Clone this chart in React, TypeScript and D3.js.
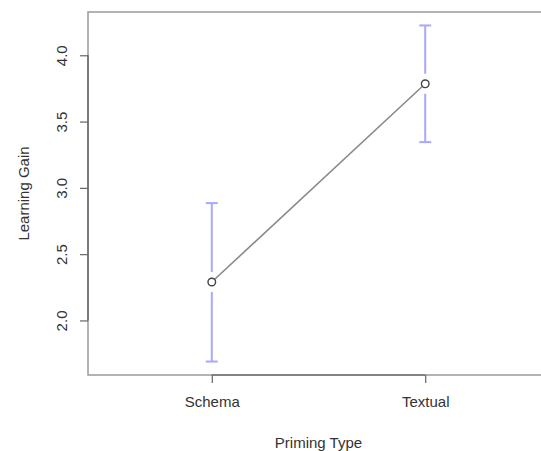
import React, { useEffect, useRef } from 'react';
import * as d3 from 'd3';

// values
const categories = ['Schema', 'Textual'];
const means = [2.29, 3.785];
const upperCI = [2.885, 4.225];
const lowerCI = [1.69, 3.345];
const yTicks = [2.0, 2.5, 3.0, 3.5, 4.0];

const W = 541;
const H = 451;

const App: React.FC = () => {
  const svgRef = useRef<SVGSVGElement>(null);

  useEffect(() => {
    if (!svgRef.current) return;
    const svg = d3.select(svgRef.current);
    svg.selectAll('*').remove();

    const plot = { left: 88, top: 12, right: 549, bottom: 375 };
    const font = '"Liberation Sans", Arial, sans-serif';

    // R-style 4% extension of the data range
    const lo = d3.min(lowerCI)!;
    const hi = d3.max(upperCI)!;
    const pad = (hi - lo) * 0.04;
    const y = d3.scaleLinear().domain([lo - pad, hi + pad]).range([plot.bottom, plot.top]);
    const x = d3.scaleLinear().domain([0.42, 2.58]).range([plot.left, plot.right]);

    const pts = categories.map((c, i) => ({ c, i: i + 1, m: means[i], u: upperCI[i], l: lowerCI[i] }));

    // box
    svg.append('rect')
      .attr('x', plot.left).attr('y', plot.top)
      .attr('width', plot.right - plot.left).attr('height', plot.bottom - plot.top)
      .attr('fill', 'none').attr('stroke', '#9a9a9a').attr('stroke-width', 1.5);

    // y axis
    const ya = svg.append('g')
      .attr('transform', `translate(${plot.left},0)`)
      .call(d3.axisLeft(y).tickValues(yTicks).tickFormat(d3.format('.1f')).tickSize(8).tickPadding(8));
    ya.select('.domain').attr('stroke', '#555').attr('stroke-width', 1.2)
      .attr('d', `M0,${y(4.0)}V${y(2.0)}`);
    ya.selectAll('.tick line').attr('stroke', '#666').attr('stroke-width', 1.2);
    ya.selectAll('.tick text')
      .attr('fill', '#333').style('font-family', font).style('font-size', '15px')
      .attr('text-anchor', 'middle')
      .attr('x', null).attr('dy', null)
      .attr('transform', 'translate(-27,0) rotate(-90)')
      .attr('dominant-baseline', 'central');

    // x axis
    const xa = svg.append('g')
      .attr('transform', `translate(0,${plot.bottom})`)
      .call(d3.axisBottom(x).tickValues([1, 2]).tickFormat((d) => categories[(d as number) - 1]).tickSize(8).tickPadding(13));
    xa.select('.domain').attr('stroke', '#555').attr('stroke-width', 1.2)
      .attr('d', `M${x(1)},0H${x(2)}`);
    xa.selectAll('.tick line').attr('stroke', '#666').attr('stroke-width', 1.2);
    xa.selectAll('.tick text')
      .attr('fill', '#333').style('font-family', font).style('font-size', '15px');

    // axis titles
    svg.append('text')
      .attr('x', (plot.left + plot.right) / 2).attr('y', 442)
      .attr('text-anchor', 'middle').attr('dominant-baseline', 'central')
      .attr('fill', '#333').style('font-family', font).style('font-size', '15px')
      .text('Priming Type');
    svg.append('text')
      .attr('transform', `translate(23,${(plot.top + plot.bottom) / 2}) rotate(-90)`)
      .attr('text-anchor', 'middle').attr('dominant-baseline', 'central')
      .attr('fill', '#333').style('font-family', font).style('font-size', '15px')
      .text('Learning Gain');

    // error bars with a gap around the point
    const gap = 10;
    const cap = 6;
    const bars = svg.append('g').attr('stroke', '#a8a8ff').attr('stroke-width', 2);
    pts.forEach((p) => {
      const cx = x(p.i);
      bars.append('line').attr('x1', cx).attr('x2', cx).attr('y1', y(p.u)).attr('y2', y(p.m) - gap);
      bars.append('line').attr('x1', cx).attr('x2', cx).attr('y1', y(p.m) + gap).attr('y2', y(p.l));
      bars.append('line').attr('x1', cx - cap).attr('x2', cx + cap).attr('y1', y(p.u)).attr('y2', y(p.u));
      bars.append('line').attr('x1', cx - cap).attr('x2', cx + cap).attr('y1', y(p.l)).attr('y2', y(p.l));
    });

    // connecting line
    svg.append('path')
      .datum(pts)
      .attr('d', d3.line<typeof pts[0]>().x((d) => x(d.i)).y((d) => y(d.m)))
      .attr('fill', 'none').attr('stroke', '#8a8a8a').attr('stroke-width', 1.6);

    // points
    svg.selectAll('.pt')
      .data(pts)
      .enter()
      .append('circle')
      .attr('class', 'pt')
      .attr('cx', (d) => x(d.i)).attr('cy', (d) => y(d.m))
      .attr('r', 3.8)
      .attr('fill', 'white').attr('stroke', '#444').attr('stroke-width', 1.4);
  }, []);

  return (
    <svg
      ref={svgRef}
      width={W}
      height={H}
      style={{ position: 'absolute', left: 0, top: 0, background: 'white' }}
    />
  );
};

export default App;
